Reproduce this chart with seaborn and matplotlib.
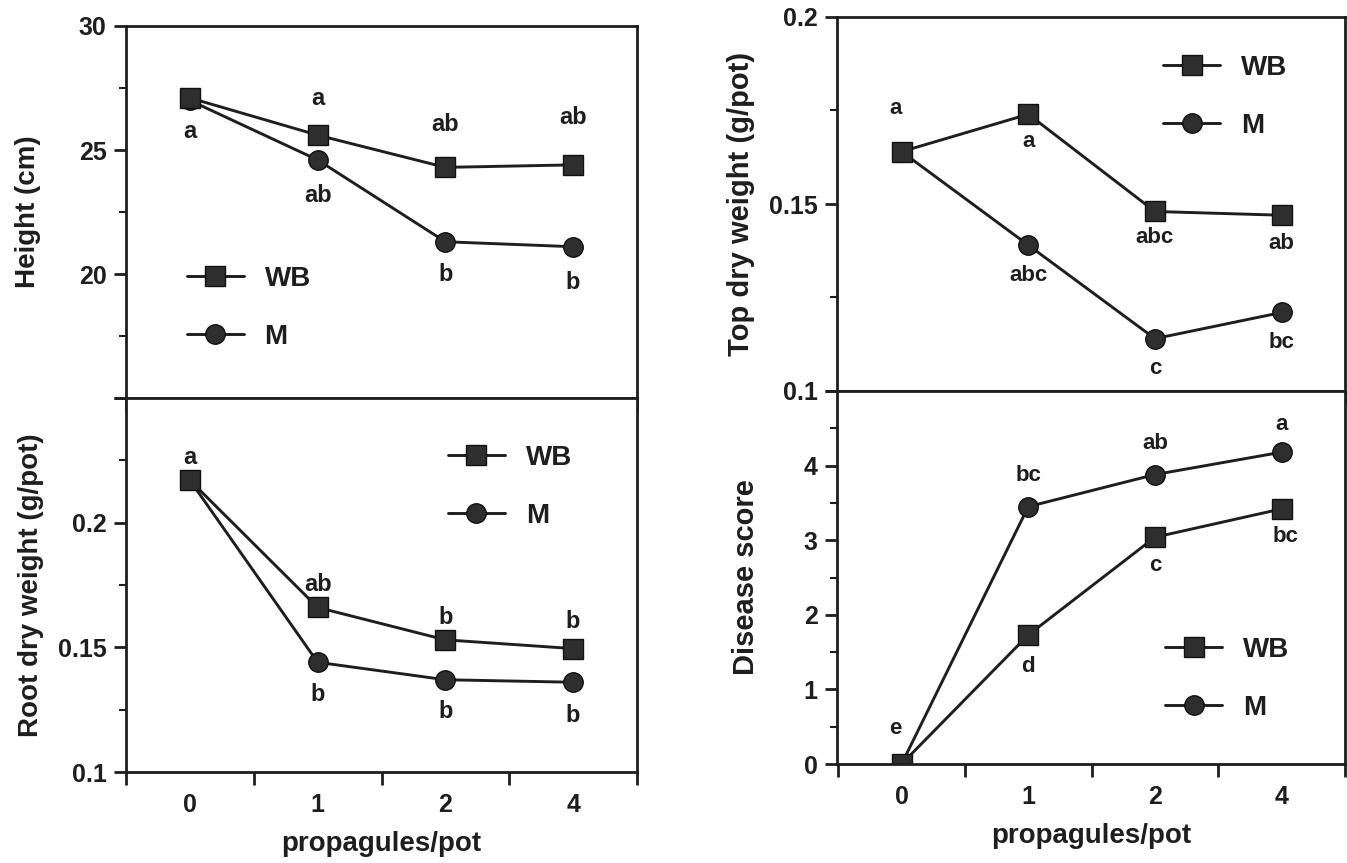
import numpy as np
import pandas as pd
import matplotlib
matplotlib.use("Agg")
import matplotlib.pyplot as plt
from matplotlib.lines import Line2D
import seaborn as sns

# ---------------- data ----------------
categories = ["0", "1", "2", "4"]
series_names = ["WB", "M"]

height_wb = [27.1, 25.6, 24.3, 24.4]
height_m = [27.0, 24.6, 21.3, 21.1]
root_wb = [0.217, 0.166, 0.153, 0.1495]
root_m = [0.217, 0.144, 0.137, 0.136]
top_wb = [0.164, 0.174, 0.148, 0.147]
top_m = [0.164, 0.139, 0.114, 0.121]
disease_wb = [0.0, 1.73, 3.04, 3.42]
disease_m = [0.0, 3.45, 3.88, 4.18]

height_letters_wb = ["a", "a", "ab", "ab"]
height_letters_m = ["", "ab", "b", "b"]
root_letters_wb = ["a", "ab", "b", "b"]
root_letters_m = ["", "b", "b", "b"]
top_letters_wb = ["a", "a", "abc", "ab"]
top_letters_m = ["", "abc", "c", "bc"]
disease_letters_wb = ["e", "d", "c", "bc"]
disease_letters_m = ["", "bc", "ab", "a"]

height_ticks = [15, 20, 25, 30]
height_ticklabels = ["", "20", "25", "30"]
root_ticks = [0.1, 0.15, 0.2, 0.25]
root_ticklabels = ["0.1", "0.15", "0.2", ""]
top_ticks = [0.1, 0.15, 0.2]
top_ticklabels = ["0.1", "0.15", "0.2"]
disease_ticks = [0, 1, 2, 3, 4, 5]
disease_ticklabels = ["0", "1", "2", "3", "4", ""]

x_label = "propagules/pot"

# ---------------- style ----------------
sns.set_theme(style="ticks")
plt.rcParams["font.family"] = ["Liberation Sans", "DejaVu Sans"]
plt.rcParams["font.weight"] = "bold"
plt.rcParams["axes.labelweight"] = "bold"

INK = "#1e1e1e"
FILL = "#2e2e2e"
PX = 0.72  # points per pixel at dpi 100

W, H = 1347, 863
fig = plt.figure(figsize=(W / 100, H / 100), dpi=100)
fig.patch.set_facecolor("white")


def add_ax(l, t, r, b):
    return fig.add_axes([l / W, 1 - b / H, (r - l) / W, (b - t) / H])


ax_h = add_ax(126, 26, 637, 398)
ax_r = add_ax(126, 398, 637, 772)
ax_t = add_ax(837, 17, 1345, 391)
ax_d = add_ax(837, 391, 1345, 764)

panels = [
    dict(ax=ax_h, wb=height_wb, m=height_m, lw=height_letters_wb, lm=height_letters_m,
         off_wb=[-34, 37, 43, 47], off_m=[0, -36, -33, -36], dx_wb=[0, 0, 0, 0],
         ylim=(15, 30), ticks=height_ticks, labels=height_ticklabels, minor=[17.5, 22.5, 27.5],
         ylabel="Height (cm)", ylab_x=-0.192, ylab_size=20, let_size=17, bottom=False,
         xlim=(-0.5, 3.5), leg=(0.119, 0.243)),
    dict(ax=ax_r, wb=root_wb, m=root_m, lw=root_letters_wb, lm=root_letters_m,
         off_wb=[23, 23, 22, 27], off_m=[0, -32, -32, -33], dx_wb=[0, 0, 0, 0],
         ylim=(0.1, 0.25), ticks=root_ticks, labels=root_ticklabels, minor=[0.125, 0.175, 0.225],
         ylabel="Root dry weight (g/pot)", ylab_x=-0.185, ylab_size=20, let_size=17, bottom=True,
         xlim=(-0.5, 3.5), leg=(0.630, 0.763)),
    dict(ax=ax_t, wb=top_wb, m=top_m, lw=top_letters_wb, lm=top_letters_m,
         off_wb=[43, -27, -26, -28], off_m=[0, -30, -30, -30], dx_wb=[-6, 0, 0, 0],
         ylim=(0.1, 0.2), ticks=top_ticks, labels=top_ticklabels, minor=[0.125, 0.175],
         ylabel="Top dry weight (g/pot)", ylab_x=-0.189, ylab_size=21, let_size=16, bottom=False,
         xlim=(-0.51, 3.43), leg=(0.642, 0.787)),
    dict(ax=ax_d, wb=disease_wb, m=disease_m, lw=disease_letters_wb, lm=disease_letters_m,
         off_wb=[36, -32, -28, -28], off_m=[0, 31, 31, 28], dx_wb=[-6, 0, 0, 4],
         ylim=(0, 5), ticks=disease_ticks, labels=disease_ticklabels, minor=[0.5, 1.5, 2.5, 3.5, 4.5],
         ylabel="Disease score", ylab_x=-0.180, ylab_size=21, let_size=16, bottom=True,
         xlim=(-0.51, 3.43), leg=(0.646, 0.228)),
]

cat_pos = {c: i for i, c in enumerate(categories)}

for p in panels:
    ax = p["ax"]
    df = pd.DataFrame({
        "propagules": categories * 2,
        "value": list(p["wb"]) + list(p["m"]),
        "series": ["WB"] * len(categories) + ["M"] * len(categories),
    })
    df["pos"] = df["propagules"].map(cat_pos)
    sns.lineplot(data=df, x="pos", y="value", hue="series", style="series",
                 hue_order=["M", "WB"], style_order=["M", "WB"],
                 markers={"WB": "s", "M": "o"}, dashes=False,
                 palette={"WB": INK, "M": INK}, errorbar=None, legend=False,
                 linewidth=2.1, markersize=14, markeredgecolor="#111111",
                 markeredgewidth=1.0, markerfacecolor=FILL, ax=ax)

    # significance letters
    for i, c in enumerate(categories):
        if p["lw"][i]:
            ax.annotate(p["lw"][i], (cat_pos[c], p["wb"][i]),
                        xytext=(p["dx_wb"][i] * PX, p["off_wb"][i] * PX),
                        textcoords="offset points", ha="center", va="center",
                        fontsize=p["let_size"], fontweight="bold", color=INK)
        if p["lm"][i]:
            ax.annotate(p["lm"][i], (cat_pos[c], p["m"][i]),
                        xytext=(0, p["off_m"][i] * PX),
                        textcoords="offset points", ha="center", va="center",
                        fontsize=p["let_size"], fontweight="bold", color=INK)

    # axes limits and ticks
    ax.set_xlim(*p["xlim"])
    ax.set_ylim(*p["ylim"])
    ax.set_xticks([-0.5, 0.5, 1.5, 2.5, 3.5])
    ax.set_xticklabels([])
    ax.set_xticks(range(len(categories)), minor=True)
    if p["bottom"]:
        ax.set_xticklabels(categories, minor=True)
        ax.set_xlabel(x_label, fontsize=20, fontweight="bold", color=INK)
        ax.xaxis.set_label_coords(0.5, -0.192)
        ax.xaxis.label.set_va("center")
    else:
        ax.set_xticklabels([], minor=True)
        ax.set_xlabel("")
    ax.tick_params(axis="x", which="minor", length=0, pad=15, labelsize=18, labelcolor=INK)
    ax.tick_params(axis="x", which="major", length=9, width=2, direction="out", color=INK)

    ax.set_yticks(p["ticks"])
    ax.set_yticklabels(p["labels"])
    ax.set_yticks(p["minor"], minor=True)
    ax.tick_params(axis="y", which="major", length=9, width=2, direction="out",
                   pad=5, labelsize=18, color=INK, labelcolor=INK)
    ax.tick_params(axis="y", which="minor", length=5, width=1.5, direction="out", color=INK)
    for lab in ax.get_xticklabels(minor=True) + ax.get_yticklabels():
        lab.set_fontweight("bold")

    ax.set_ylabel(p["ylabel"], fontsize=p["ylab_size"], fontweight="bold", color=INK)
    ax.yaxis.set_label_coords(p["ylab_x"], 0.5)
    ax.yaxis.label.set_va("center")

    for s in ax.spines.values():
        s.set_visible(True)
        s.set_linewidth(2.0)
        s.set_color(INK)
    ax.set_facecolor("white")

    # legend
    handles = [
        Line2D([], [], color=INK, lw=2.1, marker="s", markersize=14,
               markerfacecolor=FILL, markeredgecolor="#111111"),
        Line2D([], [], color=INK, lw=2.1, marker="o", markersize=14,
               markerfacecolor=FILL, markeredgecolor="#111111"),
    ]
    leg = ax.legend(handles, series_names, loc="center left", bbox_to_anchor=p["leg"],
                    frameon=False, borderpad=0, borderaxespad=0, handlelength=2.05,
                    handletextpad=0.75, labelspacing=1.15,
                    prop={"size": 20, "weight": "bold"})
    for t in leg.get_texts():
        t.set_color(INK)

fig.savefig("out.png", dpi=100, facecolor="white")
